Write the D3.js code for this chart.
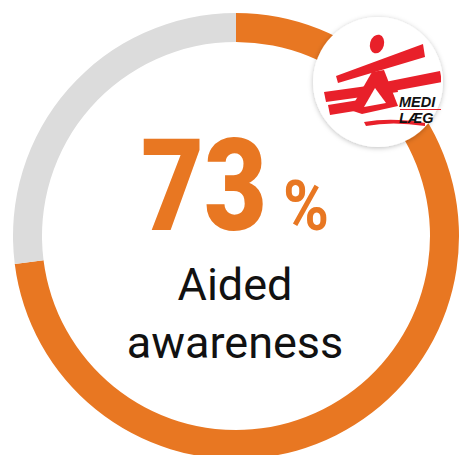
<!DOCTYPE html>
<html>
<head>
<meta charset="utf-8">
<script src="https://cdn.jsdelivr.net/npm/d3@7"></script>
<style>
  html, body { margin: 0; padding: 0; background: #fff; }
  svg { display: block; }
</style>
</head>
<body>
<svg id="chart" width="459" height="455"></svg>
<script>
// --- Data ---
const categories = ["Aware", "Not aware"];
const values = [73, 27];
const valueLabel = "73";
const labelLines = ["Aided", "awareness"];
const colors = ["#E87722", "#DCDCDC"];

const svg = d3.select("#chart");
const cx = 236, cy = 236;
const outerR = 223, innerR = 194;

const g = svg.append("g").attr("transform", `translate(${cx},${cy})`);

// --- Ring ---
const pie = d3.pie().sort(null).value(d => d)(values);
const arc = d3.arc().innerRadius(innerR).outerRadius(outerR);

g.selectAll("path.slice")
  .data(pie)
  .join("path")
  .attr("class", "slice")
  .attr("d", arc)
  .attr("fill", (d, i) => colors[i]);

// --- Centre text (squeezed horizontally to mimic a condensed face) ---
function squeezed(x, y, size, weight, targetWidth, str) {
  const wrap = g.append("g");
  const t = wrap.append("text")
    .attr("font-family", "Roboto, 'Open Sans', sans-serif")
    .attr("font-weight", weight)
    .attr("font-size", size)
    .attr("fill", colors[0])
    .text(str);
  const bb = t.node().getBBox();
  const k = targetWidth / bb.width;
  wrap.attr("transform", `translate(${x},${y}) scale(${k},1)`);
  return wrap;
}
squeezed(-95, -6, 128, 900, 126, valueLabel);
squeezed(47, -6, 70, 700, 46, "%");

g.selectAll("text.label")
  .data(labelLines)
  .join("text")
  .attr("class", "label")
  .attr("x", -1)
  .attr("y", (d, i) => 64 + i * 58)
  .attr("text-anchor", "middle")
  .attr("font-family", "Roboto, 'Open Sans', sans-serif")
  .attr("font-size", 45)
  .attr("fill", "#111")
  .text(d => d);

// --- Logo badge ---
const defs = svg.append("defs");
const shadow = defs.append("filter").attr("id", "shadow")
  .attr("x", "-30%").attr("y", "-30%").attr("width", "160%").attr("height", "160%");
shadow.append("feDropShadow")
  .attr("dx", 0).attr("dy", 1)
  .attr("stdDeviation", 2.5)
  .attr("flood-color", "#000")
  .attr("flood-opacity", 0.25);

defs.append("clipPath").attr("id", "logoClip")
  .append("rect").attr("x", -66).attr("y", -66).attr("width", 129).attr("height", 132);

const logo = svg.append("g").attr("transform", "translate(378,82)");
logo.append("circle").attr("r", 65).attr("fill", "#fff").attr("filter", "url(#shadow)");

const mark = logo.append("g").attr("clip-path", "url(#logoClip)");
const red = "#E8202A";

mark.append("ellipse")
  .attr("cx", -1).attr("cy", -38).attr("rx", 7).attr("ry", 9.5)
  .attr("transform", "rotate(15,-1,-38)")
  .attr("fill", red);

const bands = [
  [[-42, -6], [-40, 1], [47, -25], [45, -38]],
  [[-8, 3], [-6, 13], [64, 0], [62, -11]],
  [[-54, 10], [-52, 20], [20, 10], [18, 0]],
  [[-50, 23], [-48, 33], [14, 23], [12, 13]],
  [[-6, -10], [-28, 28], [-16, 32], [20, 24], [6, -12]]
];
mark.selectAll("polygon.band")
  .data(bands)
  .join("polygon")
  .attr("class", "band")
  .attr("points", d => d.map(p => p.join(",")).join(" "))
  .attr("fill", red);

mark.append("polygon")
  .attr("points", "-3,6 -14,25 8,21")
  .attr("fill", "#fff");

mark.append("path")
  .attr("d", "M-14,40 Q14,35 47,41 L47,44 Q14,39 -12,44 Z")
  .attr("fill", red);

mark.append("line")
  .attr("x1", 22).attr("x2", 66).attr("y1", 27.5).attr("y2", 27.5)
  .attr("stroke", red).attr("stroke-width", 1);

mark.selectAll("text.logo")
  .data(["MEDI", "LÆG"])
  .join("text")
  .attr("class", "logo")
  .attr("x", 21)
  .attr("y", (d, i) => 24.5 + i * 16.5)
  .attr("font-family", "'Liberation Sans', Arial, sans-serif")
  .attr("font-weight", 700)
  .attr("font-style", "italic")
  .attr("font-size", 14.5)
  .attr("fill", "#111")
  .text(d => d);
</script>
</body>
</html>
